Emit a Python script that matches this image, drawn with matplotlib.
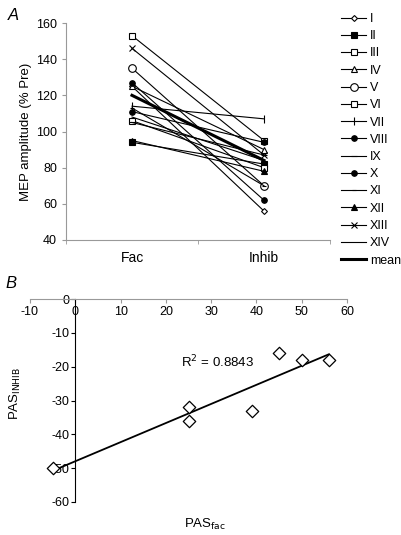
import numpy as np
import matplotlib
matplotlib.use('Agg')
import matplotlib.pyplot as plt

plt.rcParams['font.family'] = ['Liberation Sans', 'DejaVu Sans']
plt.rcParams['axes.unicode_minus'] = False

# Panel A: MEP amplitude (% Pre) per subject
subjects = ['I', 'II', 'III', 'IV', 'V', 'VI', 'VII', 'VIII', 'IX', 'X', 'XI', 'XII', 'XIII', 'XIV']
conditions = ['Fac', 'Inhib']
fac_vals = [125, 94, 153, 125, 135, 106, 114, 127, 105, 111, 113, 95, 146, 108]
inhib_vals = [56, 82, 95, 90, 70, 80, 107, 62, 87, 94, 70, 78, 87, 84]
mean_vals = [120, 84]

# Panel B: PAS scatter
pas_fac = [-5, 25, 25, 39, 45, 50, 56]
pas_inhib = [-50, -32, -36, -33, -16, -18, -18]

# marker styles per subject: (marker, filled, size)
styles = [('D', False, 3), ('s', True, 4), ('s', False, 4), ('^', False, 4),
          ('o', False, 5.5), ('s', False, 4), ('|', True, 6), ('o', True, 4),
          ('_', True, 5), ('o', True, 4), ('_', True, 3), ('^', True, 4),
          ('x', True, 4.5), ('', True, 0)]

fig = plt.figure(figsize=(4.01, 5.35), dpi=100)

# ---- Panel A ----
axA = fig.add_axes([66/401, 1 - 240/535, 264/401, 217/535])
x = np.arange(len(conditions))
handles = []
for i, name in enumerate(subjects):
    m, filled, ms = styles[i]
    h, = axA.plot(x, [fac_vals[i], inhib_vals[i]], color='black', lw=0.8,
                  marker=m if m else None, markersize=ms, markeredgewidth=0.8,
                  markerfacecolor='black' if filled else 'white',
                  markeredgecolor='black', label=name)
    handles.append(h)
hm, = axA.plot(x, mean_vals, color='black', lw=2.2, label='mean')
handles.append(hm)

axA.set_xlim(-0.5, 1.5)
axA.set_ylim(40, 160)
axA.set_yticks(range(40, 161, 20))
axA.set_xticks(x)
axA.set_xticklabels(conditions, fontsize=10)
axA.set_xticks([-0.5, 0.5, 1.5], minor=True)
axA.tick_params(axis='x', which='major', length=0, pad=8)
axA.tick_params(axis='x', which='minor', length=3, color='#999999')
axA.tick_params(axis='y', length=3, color='#999999', labelsize=9)
for s in ['top', 'right']:
    axA.spines[s].set_visible(False)
for s in ['left', 'bottom']:
    axA.spines[s].set_color('#999999')
axA.set_ylabel('MEP amplitude (% Pre)', fontsize=9.5, labelpad=3)

fig.legend(handles=handles, loc='upper left', bbox_to_anchor=(341/401, 1 - 13/535),
           frameon=False, fontsize=9, handlelength=2.0, handletextpad=0.3,
           labelspacing=0.42, borderpad=0, borderaxespad=0)

fig.text(8/401, 1 - 16/535, 'A', fontsize=12, style='italic', va='center')

# ---- Panel B ----
axB = fig.add_axes([30/401, 1 - 502/535, 317/401, 203/535])
axB.scatter(pas_fac, pas_inhib, marker='D', s=40, facecolor='white',
            edgecolor='black', linewidth=0.9, zorder=3)
slope, intercept = np.polyfit(pas_fac, pas_inhib, 1)
xf = np.array([min(pas_fac), max(pas_fac)])
axB.plot(xf, slope * xf + intercept, color='black', lw=1.3, zorder=2)
r2 = np.corrcoef(pas_fac, pas_inhib)[0, 1] ** 2
axB.text(23.3, -18.5, f'R$^2$ = {r2:.4f}', fontsize=9.5, va='center')

axB.set_xlim(-10, 60)
axB.set_ylim(-60, 0)
axB.set_xticks(range(-10, 61, 10))
axB.set_yticks(range(-60, 1, 10))
axB.spines['left'].set_position(('data', 0))
axB.spines['bottom'].set_position(('data', 0))
axB.spines['top'].set_visible(False)
axB.spines['right'].set_visible(False)
axB.spines['bottom'].set_color('#999999')
axB.spines['left'].set_color('black')
axB.tick_params(axis='x', length=3, color='#999999', labelsize=9, pad=2)
axB.tick_params(axis='y', length=3, labelsize=9, pad=1)

fig.text(15/401, 1 - 393/535, 'PAS$_{\\mathrm{INHIB}}$', rotation=90, fontsize=9.5,
         ha='center', va='center')
fig.text(205/401, 1 - 524/535, 'PAS$_{\\mathrm{fac}}$', fontsize=9.5,
         ha='center', va='center')
fig.text(5/401, 1 - 283/535, 'B', fontsize=12, style='italic', va='center')

fig.savefig('out.png', dpi=100)
